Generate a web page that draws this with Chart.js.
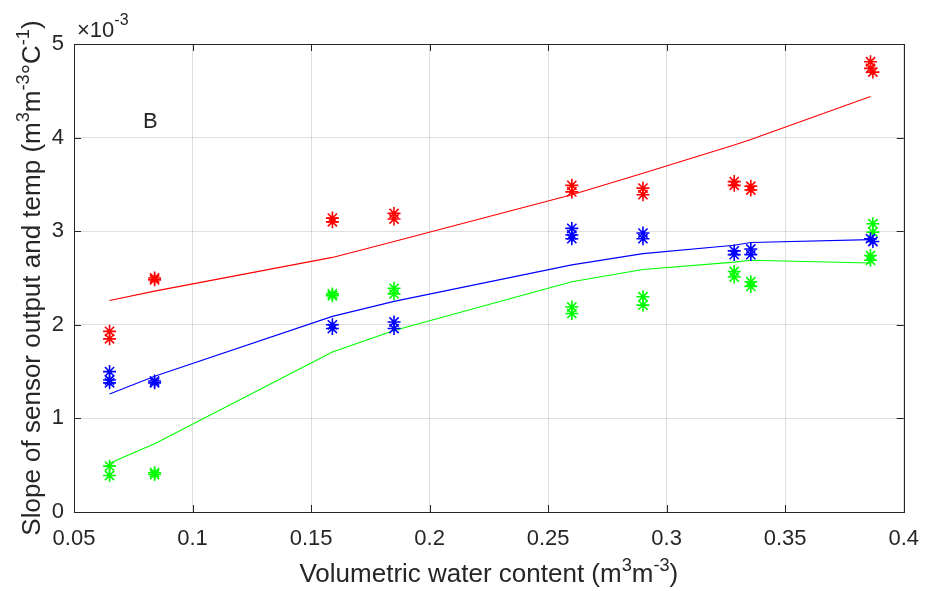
<!DOCTYPE html>
<html>
<head>
<meta charset="utf-8">
<script src="https://cdn.jsdelivr.net/npm/chart.js@4"></script>
<style>
html,body{margin:0;padding:0;background:#fff;}
canvas{display:block;}
</style>
</head>
<body>
<canvas id="c" width="933" height="591"></canvas>
<script>
// ---- data (y values in units of 1e-3) ----
const xTicks = [0.05,0.1,0.15,0.2,0.25,0.3,0.35,0.4];
const yTicks = [0,1,2,3,4,5];

const redX   = [0.065,0.065,0.084,0.084,0.159,0.159,0.185,0.185,0.26,0.26,0.29,0.29,0.3285,0.3285,0.3355,0.3355,0.386,0.386,0.387];
const redY   = [1.93,1.85,2.50,2.48,3.14,3.10,3.19,3.13,3.49,3.42,3.46,3.39,3.53,3.49,3.48,3.44,4.81,4.74,4.70];

const blueX  = [0.065,0.065,0.065,0.084,0.084,0.159,0.159,0.185,0.185,0.26,0.26,0.26,0.29,0.29,0.3285,0.3285,0.3355,0.3355,0.386,0.387];
const blueY  = [1.50,1.41,1.38,1.40,1.38,2.00,1.96,2.03,1.96,3.03,2.96,2.92,2.98,2.92,2.79,2.75,2.81,2.75,2.92,2.89];

const greenX = [0.065,0.065,0.084,0.084,0.159,0.159,0.185,0.185,0.26,0.26,0.29,0.29,0.3285,0.3285,0.3355,0.3355,0.387,0.387,0.386,0.386];
const greenY = [0.49,0.39,0.42,0.40,2.33,2.31,2.39,2.33,2.19,2.12,2.30,2.21,2.57,2.51,2.46,2.41,3.08,2.99,2.74,2.69];

const fitX     = [0.065,0.084,0.159,0.185,0.26,0.29,0.3285,0.3355,0.386];
const redFit   = [2.26,2.36,2.72,2.89,3.39,3.62,3.92,3.98,4.44];
const blueFit  = [1.26,1.45,2.09,2.25,2.64,2.76,2.85,2.88,2.91];
const greenFit = [0.52,0.73,1.71,1.94,2.46,2.59,2.67,2.69,2.66];

const panelLabel = "B";
const exponentLabel = ["\u00d710", "-3"];
const xTitle = [["Volumetric water content (m",0],["3",1],["m",0],["-3",1],[")",0]];
const yTitle = [["Slope of sensor output and temp (m",0],["3",1],["m",0],["-3",1],["\u00b0C",0],["-1",1],[")",0]];

// ---- helpers ----
const FONT = '"Liberation Sans", Arial, Helvetica, sans-serif';
const TXT = '#262626';
const pts = (xs, ys) => xs.map((x,i)=>({x:x, y:ys[i]}));

function richWidth(ctx, parts, size){
  let w=0;
  for(const [t,s] of parts){ ctx.font = (s? size*0.7 : size)+'px '+FONT; w += ctx.measureText(t).width; }
  return w;
}
function drawRich(ctx, parts, x, y, size){
  const w = richWidth(ctx, parts, size);
  let cx = x - w/2;
  ctx.textAlign='left'; ctx.textBaseline='alphabetic';
  for(const [t,s] of parts){
    ctx.font = (s? size*0.7 : size)+'px '+FONT;
    ctx.fillText(t, cx, s ? y - size*0.42 : y);
    cx += ctx.measureText(t).width;
  }
}

const decor = {
  id:'decor',
  afterDraw(chart){
    const {ctx, chartArea:a, scales:{x, y}} = chart;
    ctx.save();
    // box
    ctx.strokeStyle = TXT; ctx.lineWidth = 1;
    ctx.strokeRect(Math.round(a.left)+0.5, Math.round(a.top)+0.5, Math.round(a.right-a.left), Math.round(a.bottom-a.top));
    // inner ticks
    ctx.beginPath();
    const tl = 7;
    for(const v of xTicks){
      const px = Math.round(x.getPixelForValue(v))+0.5;
      ctx.moveTo(px, a.bottom); ctx.lineTo(px, a.bottom - tl);
      ctx.moveTo(px, a.top); ctx.lineTo(px, a.top + tl);
    }
    for(const v of yTicks){
      const py = Math.round(y.getPixelForValue(v))+0.5;
      ctx.moveTo(a.left, py); ctx.lineTo(a.left + tl, py);
      ctx.moveTo(a.right, py); ctx.lineTo(a.right - tl, py);
    }
    ctx.stroke();
    ctx.fillStyle = TXT;
    // exponent
    ctx.textAlign='left'; ctx.textBaseline='alphabetic';
    ctx.font = '22px '+FONT;
    ctx.fillText(exponentLabel[0], a.left+3, a.top-7);
    const w0 = ctx.measureText(exponentLabel[0]).width;
    ctx.font = '16px '+FONT;
    ctx.fillText(exponentLabel[1], a.left+3+w0, a.top-19);
    // panel label
    ctx.font = '22px '+FONT;
    ctx.fillText(panelLabel, 143, 128);
    // x title
    drawRich(ctx, xTitle, (a.left+a.right)/2, 582, 26);
    // y title
    ctx.translate(40, (a.top+a.bottom)/2);
    ctx.rotate(-Math.PI/2);
    drawRich(ctx, yTitle, 0, 0, 26);
    ctx.restore();
  }
};

const star = (color) => ({
  type:'scatter', showLine:false, pointStyle:'star', pointRadius:6.5, pointHoverRadius:6.5,
  borderColor:color, backgroundColor:color, pointBorderWidth:1.6
});
const fit = (color) => ({
  type:'scatter', showLine:true, pointRadius:0, borderColor:color, borderWidth:1.1, tension:0, fill:false
});

new Chart(document.getElementById('c'), {
  type:'scatter',
  data:{ datasets:[
    Object.assign({data:pts(redX,redY)}, star('#ff0000')),
    Object.assign({data:pts(blueX,blueY)}, star('#0000ff')),
    Object.assign({data:pts(greenX,greenY)}, star('#00ff00')),
    Object.assign({data:pts(fitX,redFit)}, fit('#ff0000')),
    Object.assign({data:pts(fitX,blueFit)}, fit('#0000ff')),
    Object.assign({data:pts(fitX,greenFit)}, fit('#00ff00')),
  ]},
  options:{
    responsive:false, animation:false,
    layout:{padding:{left:0, top:44, right:22, bottom:0}},
    plugins:{legend:{display:false}, tooltip:{enabled:false}},
    scales:{
      x:{
        type:'linear', min:0.05, max:0.4,
        afterBuildTicks(s){ s.ticks = xTicks.map(v=>({value:v})); },
        afterFit(s){ s.height = 79; },
        ticks:{ padding:14, color:TXT, font:{family:FONT, size:22}, maxRotation:0, autoSkip:false,
          callback:(v)=> String(+Number(v).toFixed(2)) },
        grid:{ color:'rgba(38,38,38,0.15)', drawTicks:false, lineWidth:1 },
        border:{ display:false }
      },
      y:{
        type:'linear', min:0, max:5,
        afterBuildTicks(s){ s.ticks = yTicks.map(v=>({value:v})); },
        afterFit(s){ s.width = 74; },
        ticks:{ padding:10, color:TXT, font:{family:FONT, size:22}, autoSkip:false,
          callback:(v)=> String(v) },
        grid:{ color:'rgba(38,38,38,0.15)', drawTicks:false, lineWidth:1 },
        border:{ display:false }
      }
    }
  },
  plugins:[decor]
});
</script>
</body>
</html>
